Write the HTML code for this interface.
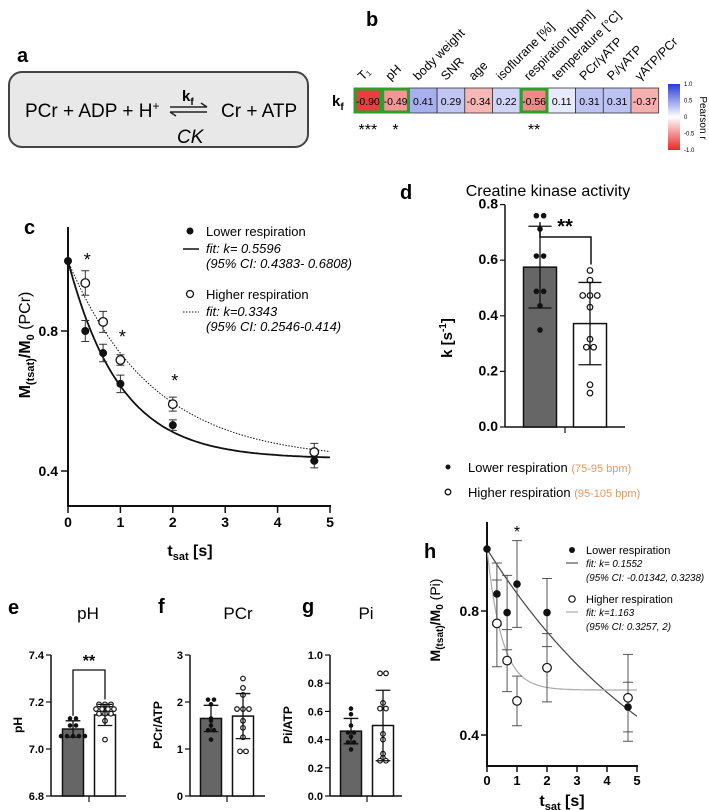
<!DOCTYPE html>
<html><head><meta charset="utf-8"><style>
html,body{margin:0;padding:0;background:#fff;}
svg{display:block;font-family:"Liberation Sans",Arial,sans-serif;}
</style></head><body>
<svg id="fig" width="709" height="810" viewBox="0 0 709 810" xmlns="http://www.w3.org/2000/svg">
<!-- panel a -->
<g>
<text x="17" y="62" font-size="20" font-weight="bold">a</text>
<rect x="9" y="72" width="299" height="75" rx="13" fill="#e8e8e8" stroke="#444" stroke-width="2"/>
<text x="25" y="117" font-size="19">PCr + ADP + H<tspan dy="-7" font-size="12">+</tspan></text>
<g stroke="#222" stroke-width="1.5" fill="none">
<path d="M170 107 H207 M201 103 L207 107"/><path d="M207 112 H170 M176 116 L170 112"/></g>
<text x="182" y="101" font-size="15" font-weight="bold">k<tspan dy="4" font-size="10">f</tspan></text>
<text x="221" y="117" font-size="19">Cr + ATP</text>
<text x="177" y="143" font-size="19" font-style="italic">CK</text>
</g>
<!-- panel b -->
<g id="pb">
<text x="366" y="26" font-size="20" font-weight="bold">b</text>
<text x="332" y="106" font-size="15" font-weight="bold">k<tspan dy="4" font-size="10">f</tspan></text>
<text x="700" y="118" font-size="10" transform="rotate(90 700 118)" text-anchor="middle">Pearson r</text>
</g>
<!-- panel c -->
<g id="pc">
<text x="24" y="234" font-size="20" font-weight="bold">c</text>
<text transform="translate(30 345) rotate(-90)" font-size="16" font-weight="bold" text-anchor="middle">M<tspan font-size="11" dy="4">(tsat)</tspan><tspan dy="-4">/M</tspan><tspan font-size="11" dy="4">0</tspan><tspan dy="-4" font-weight="normal"> (PCr)</tspan></text>
<text x="190" y="556" font-size="16" font-weight="bold" text-anchor="middle">t<tspan font-size="11" dy="4">sat</tspan><tspan dy="-4"> [s]</tspan></text>
<g font-size="13">
<circle cx="190" cy="231" r="3.5" fill="#111"/>
<text x="206" y="236">Lower respiration</text>
<line x1="183" y1="249" x2="199" y2="249" stroke="#111" stroke-width="1.5"/>
<text x="206" y="253" font-style="italic">fit: k= 0.5596</text>
<text x="206" y="268" font-style="italic">(95% CI: 0.4383- 0.6808)</text>
<circle cx="190" cy="294" r="3.5" fill="#fff" stroke="#111" stroke-width="1.3"/>
<text x="206" y="299">Higher respiration</text>
<line x1="183" y1="312" x2="199" y2="312" stroke="#111" stroke-width="1" stroke-dasharray="1.5 1.5"/>
<text x="206" y="316" font-style="italic">fit: k=0.3343</text>
<text x="206" y="331" font-style="italic">(95% CI: 0.2546-0.414)</text>
</g>
</g>
<!-- panel d -->
<g id="pd">
<text x="400" y="199" font-size="20" font-weight="bold">d</text>
<text x="548" y="196" font-size="16" text-anchor="middle">Creatine kinase activity</text>
<text transform="translate(452 338) rotate(-90)" font-size="15" font-weight="bold" text-anchor="middle">k [s<tspan font-size="10" dy="-6">-1</tspan><tspan dy="6">]</tspan></text>
<g font-size="13">
<circle cx="448" cy="467" r="2.5" fill="#111"/>
<text x="468" y="472">Lower respiration <tspan fill="#e09a60" font-size="11">(75-95 bpm)</tspan></text>
<circle cx="448" cy="492" r="2.8" fill="#fff" stroke="#111" stroke-width="1.3"/>
<text x="468" y="497">Higher respiration <tspan fill="#e09a60" font-size="11">(95-105 bpm)</tspan></text>
</g>
</g>
<!-- panels e f g -->
<g id="pefg">
<text x="8" y="614" font-size="20" font-weight="bold">e</text>
<text x="88" y="619" font-size="17" text-anchor="middle">pH</text>
<text transform="translate(22 725) rotate(-90)" font-size="12" font-weight="bold" text-anchor="middle">pH</text>
<text x="158" y="613" font-size="20" font-weight="bold">f</text>
<text x="238" y="619" font-size="17" text-anchor="middle">PCr</text>
<text transform="translate(162 725) rotate(-90)" font-size="12" font-weight="bold" text-anchor="middle">PCr/ATP</text>
<text x="302" y="613" font-size="20" font-weight="bold">g</text>
<text x="366" y="619" font-size="17" text-anchor="middle">Pi</text>
<text transform="translate(292 725) rotate(-90)" font-size="12" font-weight="bold" text-anchor="middle">Pi/ATP</text>
</g>
<!-- panel h -->
<g id="ph">
<text x="424" y="558" font-size="20" font-weight="bold">h</text>
<text transform="translate(440 620) rotate(-90)" font-size="14" font-weight="bold" text-anchor="middle">M<tspan font-size="10" dy="3">(tsat)</tspan><tspan dy="-3">/M</tspan><tspan font-size="10" dy="3">0</tspan><tspan dy="-3" font-weight="normal"> (Pi)</tspan></text>
<text x="562" y="806" font-size="16" font-weight="bold" text-anchor="middle">t<tspan font-size="11" dy="4">sat</tspan><tspan dy="-4"> [s]</tspan></text>
<g font-size="9.8">
<circle cx="572" cy="550" r="3" fill="#111"/>
<text x="586" y="554" font-size="11">Lower respiration</text>
<line x1="566" y1="563" x2="578" y2="563" stroke="#555" stroke-width="1.2"/>
<text x="586" y="567" font-style="italic">fit: k= 0.1552</text>
<text x="586" y="581" font-style="italic">(95% CI: -0.01342, 0.3238)</text>
<circle cx="572" cy="599" r="3.2" fill="#fff" stroke="#111" stroke-width="1.2"/>
<text x="586" y="603" font-size="11">Higher respiration</text>
<line x1="566" y1="612" x2="578" y2="612" stroke="#aaa" stroke-width="1.2"/>
<text x="586" y="616" font-style="italic">fit: k=1.163</text>
<text x="586" y="630" font-style="italic">(95% CI: 0.3257, 2)</text>
</g>
</g>
</svg>
<script>
// ---------- data ----------
const heatLabels = ["T\u2081","pH","body weight","SNR","age","isoflurane [%]","respiration [bpm]","temperature [\u00B0C]","PCr/\u03B3ATP","P\u1D62/\u03B3ATP","\u03B3ATP/PCr"];
const heatValues = [-0.90,-0.49,0.41,0.29,-0.34,0.22,-0.56,0.11,0.31,0.31,-0.37];
const heatStars = ["***","*","","","","","**","","","",""];
const heatHighlight = [true,true,false,false,false,false,true,false,false,false,false];

const cTimes = [0,0.33,0.67,1,2,4.7];
const cLower = [1.0,0.80,0.737,0.649,0.531,0.429];
const cLowerErr = [0,0.03,0.025,0.025,0.015,0.02];
const cHigher = [1.0,0.937,0.826,0.717,0.591,0.454];
const cHigherErr = [0,0.035,0.03,0.015,0.02,0.025];
const cStars = [false,true,false,true,true,false];
// curve shape as drawn in the figure (visual decay rates)
const cFitK = [1.0,0.62];
const cFitPlateau = [0.435,0.43];
const cXTicks = [0,1,2,3,4,5];
const cYTicks = [0.4,0.8];

const dMeans = [0.575,0.372];
const dSD = [0.147,0.148];
const dLowerDots = [0.76,0.76,0.712,0.615,0.615,0.488,0.488,0.436,0.349];
const dHigherDots = [0.563,0.528,0.473,0.473,0.473,0.431,0.316,0.287,0.287,0.152,0.122];
const dYTicks = [0.0,0.2,0.4,0.6,0.8];

const eMeans = [7.085,7.145]; const eSD = [0.035,0.045];
const eLowerDots = [7.13,7.13,7.10,7.10,7.055,7.055,7.055,7.055,7.055];
const eHigherDots = [7.19,7.19,7.19,7.17,7.17,7.17,7.17,7.15,7.15,7.15,7.12,7.04];
const eYTicks = [6.8,7.0,7.2,7.4];
const fMeans = [1.65,1.70]; const fSD = [0.28,0.48];
const fLowerDots = [2.05,2.05,1.95,1.65,1.6,1.5,1.4,1.4,1.2];
const fHigherDots = [2.5,2.3,2.15,1.85,1.85,1.85,1.6,1.45,1.25,0.95,0.95];
const fYTicks = [0,1,2,3];
const gMeans = [0.46,0.50]; const gSD = [0.09,0.25];
const gLowerDots = [0.62,0.58,0.50,0.45,0.45,0.42,0.38,0.38,0.33];
const gHigherDots = [0.87,0.87,0.66,0.62,0.62,0.44,0.40,0.30,0.27,0.25,0.25];
const gYTicks = [0.0,0.2,0.4,0.6,0.8,1.0];

const hTimes = [0,0.33,0.67,1,2,4.7];
const hLower = [1.0,0.855,0.795,0.887,0.795,0.49];
const hLowerErr = [0,0.1,0.12,0.14,0.11,0.08];
const hHigher = [1.0,0.76,0.64,0.51,0.617,0.52];
const hHigherErr = [0,0.14,0.1,0.08,0.11,0.14];
const hFitK = [0.1552,2.0];
const hFitPlateau = [0.0,0.545];
const hXTicks = [0,1,2,3,4,5];
const hYTicks = [0.4,0.8];

// ---------- helpers ----------
const NS = "http://www.w3.org/2000/svg";
function add(parent, tag, attrs, name, inter) {
  const el = document.createElementNS(NS, tag);
  for (const k in attrs) el.setAttribute(k, attrs[k]);
  
  
  parent.appendChild(el);
  return el;
}
function txt(parent, x, y, s, attrs, name) {
  const el = add(parent, 'text', Object.assign({x: x, y: y}, attrs || {}), name, false);
  el.textContent = s;
  return el;
}

// ---------- panel b heatmap ----------
(function(){
  const g = document.getElementById('pb');
  const x0 = 354, y0 = 88, cw = 27.7, ch = 25;
  function col(v){
    const a = Math.abs(v);
    if (v < 0) return `rgb(${Math.round(255-25*a)},${Math.round(255-215*a)},${Math.round(255-215*a)})`;
    return `rgb(${Math.round(255-215*a)},${Math.round(255-195*a)},${Math.round(255-40*a)})`;
  }
  heatValues.forEach((v,i)=>{
    const x = x0 + i*cw;
    add(g,'rect',{x:x,y:y0,width:cw,height:ch,fill:col(v),stroke:'#333','stroke-width':0.8},'heatmap-cell',false);
    txt(g, x+cw/2, y0+17, v.toFixed(2), {'font-size':10.5,'text-anchor':'middle'}, 'heatmap-value');
    txt(g, x+cw/2-5, y0-7, heatLabels[i], {'font-size':12.5,transform:`rotate(-45 ${x+cw/2-5} ${y0-7})`}, 'heatmap-column-label');
    if (heatStars[i]) txt(g, x+cw/2, y0+ch+22, heatStars[i], {'font-size':16,'text-anchor':'middle'}, 'significance-stars');
  });
  heatValues.forEach((v,i)=>{
    if (heatHighlight[i]) add(g,'rect',{x:x0+i*cw+1,y:y0+1,width:cw-2,height:ch-2,fill:'none',stroke:'#2aa02a','stroke-width':3},'highlight-box',false);
  });
  const defs = add(g,'defs',{},'defs',false);
  const lg = add(defs,'linearGradient',{id:'cb',x1:0,y1:0,x2:0,y2:1},'colorbar-gradient',false);
  [['0',col(1)],['0.5','#fff'],['1',col(-1)]].forEach(s=>add(lg,'stop',{offset:s[0],'stop-color':s[1]},'gradient-stop',false));
  add(g,'rect',{x:668,y:84,width:12,height:66,fill:'url(#cb)'},'colorbar',false);
  [[1.0,'1.0'],[0.5,'0.5'],[0,'0'],[-0.5,'-0.5'],[-1,'-1.0']].forEach(t=>{
    txt(g, 684, 117-t[0]*33+2, t[1], {'font-size':6}, 'colorbar-tick-label');
  });
})();

// ---------- panel c ----------
(function(){
  const g = document.getElementById('pc');
  const xC = t => 68 + t*52.4, yC = v => 331 - (v-0.8)*350;
  add(g,'line',{x1:68,y1:227,x2:68,y2:507,stroke:'#111','stroke-width':2},'c-y-axis',false);
  add(g,'line',{x1:67,y1:506,x2:331,y2:506,stroke:'#111','stroke-width':2},'c-x-axis',false);
  cXTicks.forEach(t=>{
    add(g,'line',{x1:xC(t),y1:506,x2:xC(t),y2:513,stroke:'#111','stroke-width':1.5},'c-x-tick',false);
    txt(g, xC(t), 527, String(t), {'font-size':14,'font-weight':'bold','text-anchor':'middle'}, 'c-x-tick-label');
  });
  cYTicks.forEach(v=>{
    add(g,'line',{x1:61,y1:yC(v),x2:68,y2:yC(v),stroke:'#111','stroke-width':1.5},'c-y-tick',false);
    txt(g, 58, yC(v)+5, v.toFixed(1), {'font-size':14,'font-weight':'bold','text-anchor':'end'}, 'c-y-tick-label');
  });
  function fit(k,p,dash,name){
    let d='';
    for(let t=0;t<=5.0001;t+=0.05){ d += (t===0?'M':'L')+xC(t).toFixed(1)+' '+yC(p+(1-p)*Math.exp(-k*t)).toFixed(1); }
    add(g,'path',{d:d,fill:'none',stroke:'#111','stroke-width':dash?1:1.8,'stroke-dasharray':dash?'1.5 1.5':'none'},name,false);
  }
  fit(cFitK[0],cFitPlateau[0],false,'c-fit-lower');
  fit(cFitK[1],cFitPlateau[1],true,'c-fit-higher');
  function err(x,v,e,name){
    if(!e) return;
    add(g,'path',{d:`M${x} ${yC(v+e)}V${yC(v-e)}M${x-4} ${yC(v+e)}H${x+4}M${x-4} ${yC(v-e)}H${x+4}`,stroke:'#333','stroke-width':1,fill:'none'},name,false);
  }
  cTimes.forEach((t,i)=>{ err(xC(t),cLower[i],cLowerErr[i],'c-error-lower'); err(xC(t),cHigher[i],cHigherErr[i],'c-error-higher'); });
  cTimes.forEach((t,i)=>{
    add(g,'circle',{cx:xC(t),cy:yC(cLower[i]),r:4,fill:'#111'},'c-point-lower',false);
    if(i>0) add(g,'circle',{cx:xC(t),cy:yC(cHigher[i]),r:4.3,fill:'#fff',stroke:'#111','stroke-width':1.3},'c-point-higher',false);
    if(cStars[i]) txt(g, xC(t)+2, yC(cHigher[i])-17, '*', {'font-size':18,'text-anchor':'middle'}, 'c-significance-star');
  });
})();

// ---------- bar helper ----------
function barPanel(g, prefix, axisX, axisR, yScale, ticks, fmt, means, sd, dotsA, dotsB, barW, centers, dotR){
  add(g,'line',{x1:axisX,y1:yScale(ticks[ticks.length-1]),x2:axisX,y2:yScale(ticks[0]),stroke:'#111','stroke-width':1.5},prefix+'-y-axis',false);
  add(g,'line',{x1:axisX,y1:yScale(ticks[0]),x2:axisR,y2:yScale(ticks[0]),stroke:'#111','stroke-width':1.5},prefix+'-x-axis',false);
  add(g,'line',{x1:(centers[0]+centers[1])/2,y1:yScale(ticks[0]),x2:(centers[0]+centers[1])/2,y2:yScale(ticks[0])+6,stroke:'#111','stroke-width':1.2},prefix+'-x-tick',false);
  ticks.forEach(v=>{
    add(g,'line',{x1:axisX-5,y1:yScale(v),x2:axisX,y2:yScale(v),stroke:'#111','stroke-width':1.2},prefix+'-y-tick',false);
    txt(g, axisX-7, yScale(v)+4, fmt(v), {'font-size':prefix==='d'?14:11,'font-weight':'bold','text-anchor':'end'}, prefix+'-y-tick-label');
  });
  [0,1].forEach(i=>{
    const top = yScale(means[i]);
    add(g,'rect',{x:centers[i]-barW/2,y:top,width:barW,height:yScale(ticks[0])-top,fill:i===0?'#666':'#fff',stroke:'#111','stroke-width':1.5},prefix+(i===0?'-bar-lower':'-bar-higher'),false);
    const dots = i===0?dotsA:dotsB;
    const counts = {};
    dots.forEach(v=>{ counts[v]=(counts[v]||0)+1; });
    const seen = {};
    dots.forEach(v=>{
      const n = counts[v], k = (seen[v]=(seen[v]||0)+1)-1;
      const off = (k-(n-1)/2)*dotR*2.6;
      if(i===0) add(g,'circle',{cx:centers[i]+off,cy:yScale(v),r:dotR,fill:'#111'},prefix+'-dot-lower',false);
      else add(g,'circle',{cx:centers[i]+off,cy:yScale(v),r:dotR,fill:'#fff',stroke:'#111','stroke-width':1.2},prefix+'-dot-higher',false);
    });
    const y1 = yScale(means[i]+sd[i]), y2 = yScale(means[i]-sd[i]);
    add(g,'path',{d:`M${centers[i]} ${y1}V${y2}M${centers[i]-barW*0.35} ${y1}H${centers[i]+barW*0.35}M${centers[i]-barW*0.35} ${y2}H${centers[i]+barW*0.35}`,stroke:'#111','stroke-width':1.3,fill:'none'},prefix+'-error-bar',false);
  });
}

// ---------- panel d ----------
(function(){
  const g = document.getElementById('pd');
  const yD = v => 427 - v*278;
  barPanel(g,'d',505,625,yD,dYTicks,v=>v.toFixed(1),dMeans,dSD,dLowerDots,dHigherDots,33,[540,590],2.8);
  const top = 237;
  add(g,'path',{d:`M540 ${yD(dMeans[0]+dSD[0])-4}V${top}H591V${yD(dHigherDots[0])-6}`,stroke:'#111','stroke-width':1.5,fill:'none'},'d-significance-bracket',false);
  txt(g, 565, 233, '**', {'font-size':20,'font-weight':'bold','text-anchor':'middle'}, 'd-significance-stars');
})();

// ---------- panels e f g ----------
(function(){
  const g = document.getElementById('pefg');
  const yE = v => 796 - (v-6.8)/0.6*141;
  barPanel(g,'e',51,126,yE,eYTicks,v=>v.toFixed(1),eMeans,eSD,eLowerDots,eHigherDots,21,[73,105],2.3);
  add(g,'path',{d:`M73 ${yE(eMeans[0]+eSD[0])-5}V670H105V${yE(eHigherDots[0])-5}`,stroke:'#111','stroke-width':1.3,fill:'none'},'e-significance-bracket',false);
  txt(g, 89, 666, '**', {'font-size':16,'font-weight':'bold','text-anchor':'middle'}, 'e-significance-stars');
  const yF = v => 796 - v/3*141;
  barPanel(g,'f',190,265,yF,fYTicks,v=>String(v),fMeans,fSD,fLowerDots,fHigherDots,21,[211,243],2.3);
  const yG = v => 796 - v*141;
  barPanel(g,'g',330,402,yG,gYTicks,v=>v.toFixed(1),gMeans,gSD,gLowerDots,gHigherDots,21,[351,383],2.3);
})();

// ---------- panel h ----------
(function(){
  const g = document.getElementById('ph');
  const xH = t => 487 + t*30, yH = v => 611 - (v-0.8)*310;
  add(g,'line',{x1:487,y1:522,x2:487,y2:767,stroke:'#111','stroke-width':2},'h-y-axis',false);
  add(g,'line',{x1:486,y1:766,x2:638,y2:766,stroke:'#111','stroke-width':2},'h-x-axis',false);
  hXTicks.forEach(t=>{
    add(g,'line',{x1:xH(t),y1:766,x2:xH(t),y2:772,stroke:'#111','stroke-width':1.5},'h-x-tick',false);
    txt(g, xH(t), 785, String(t), {'font-size':13,'font-weight':'bold','text-anchor':'middle'}, 'h-x-tick-label');
  });
  hYTicks.forEach(v=>{
    add(g,'line',{x1:481,y1:yH(v),x2:487,y2:yH(v),stroke:'#111','stroke-width':1.5},'h-y-tick',false);
    txt(g, 479, yH(v)+5, v.toFixed(1), {'font-size':14,'font-weight':'bold','text-anchor':'end'}, 'h-y-tick-label');
  });
  function fit(k,p,color,name){
    let d='';
    for(let t=0;t<=5.0001;t+=0.05){ d += (t===0?'M':'L')+xH(t).toFixed(1)+' '+yH(p+(1-p)*Math.exp(-k*t)).toFixed(1); }
    add(g,'path',{d:d,fill:'none',stroke:color,'stroke-width':1.2},name,false);
  }
  fit(hFitK[0],hFitPlateau[0],'#444','h-fit-lower');
  fit(hFitK[1],hFitPlateau[1],'#aaa','h-fit-higher');
  function err(x,v,e,name){
    if(!e) return;
    add(g,'path',{d:`M${x} ${yH(v+e)}V${yH(v-e)}M${x-5} ${yH(v+e)}H${x+5}M${x-5} ${yH(v-e)}H${x+5}`,stroke:'#555','stroke-width':1,fill:'none'},name,false);
  }
  hTimes.forEach((t,i)=>{ err(xH(t),hLower[i],hLowerErr[i],'h-error-lower'); err(xH(t),hHigher[i],hHigherErr[i],'h-error-higher'); });
  hTimes.forEach((t,i)=>{
    add(g,'circle',{cx:xH(t),cy:yH(hLower[i]),r:3.8,fill:'#111'},'h-point-lower',false);
    if(i>0) add(g,'circle',{cx:xH(t),cy:yH(hHigher[i]),r:4.3,fill:'#fff',stroke:'#111','stroke-width':1.2},'h-point-higher',false);
  });
  txt(g, xH(1), 537, '*', {'font-size':16,'text-anchor':'middle'}, 'h-significance-star');
})();
</script>
</body></html>
